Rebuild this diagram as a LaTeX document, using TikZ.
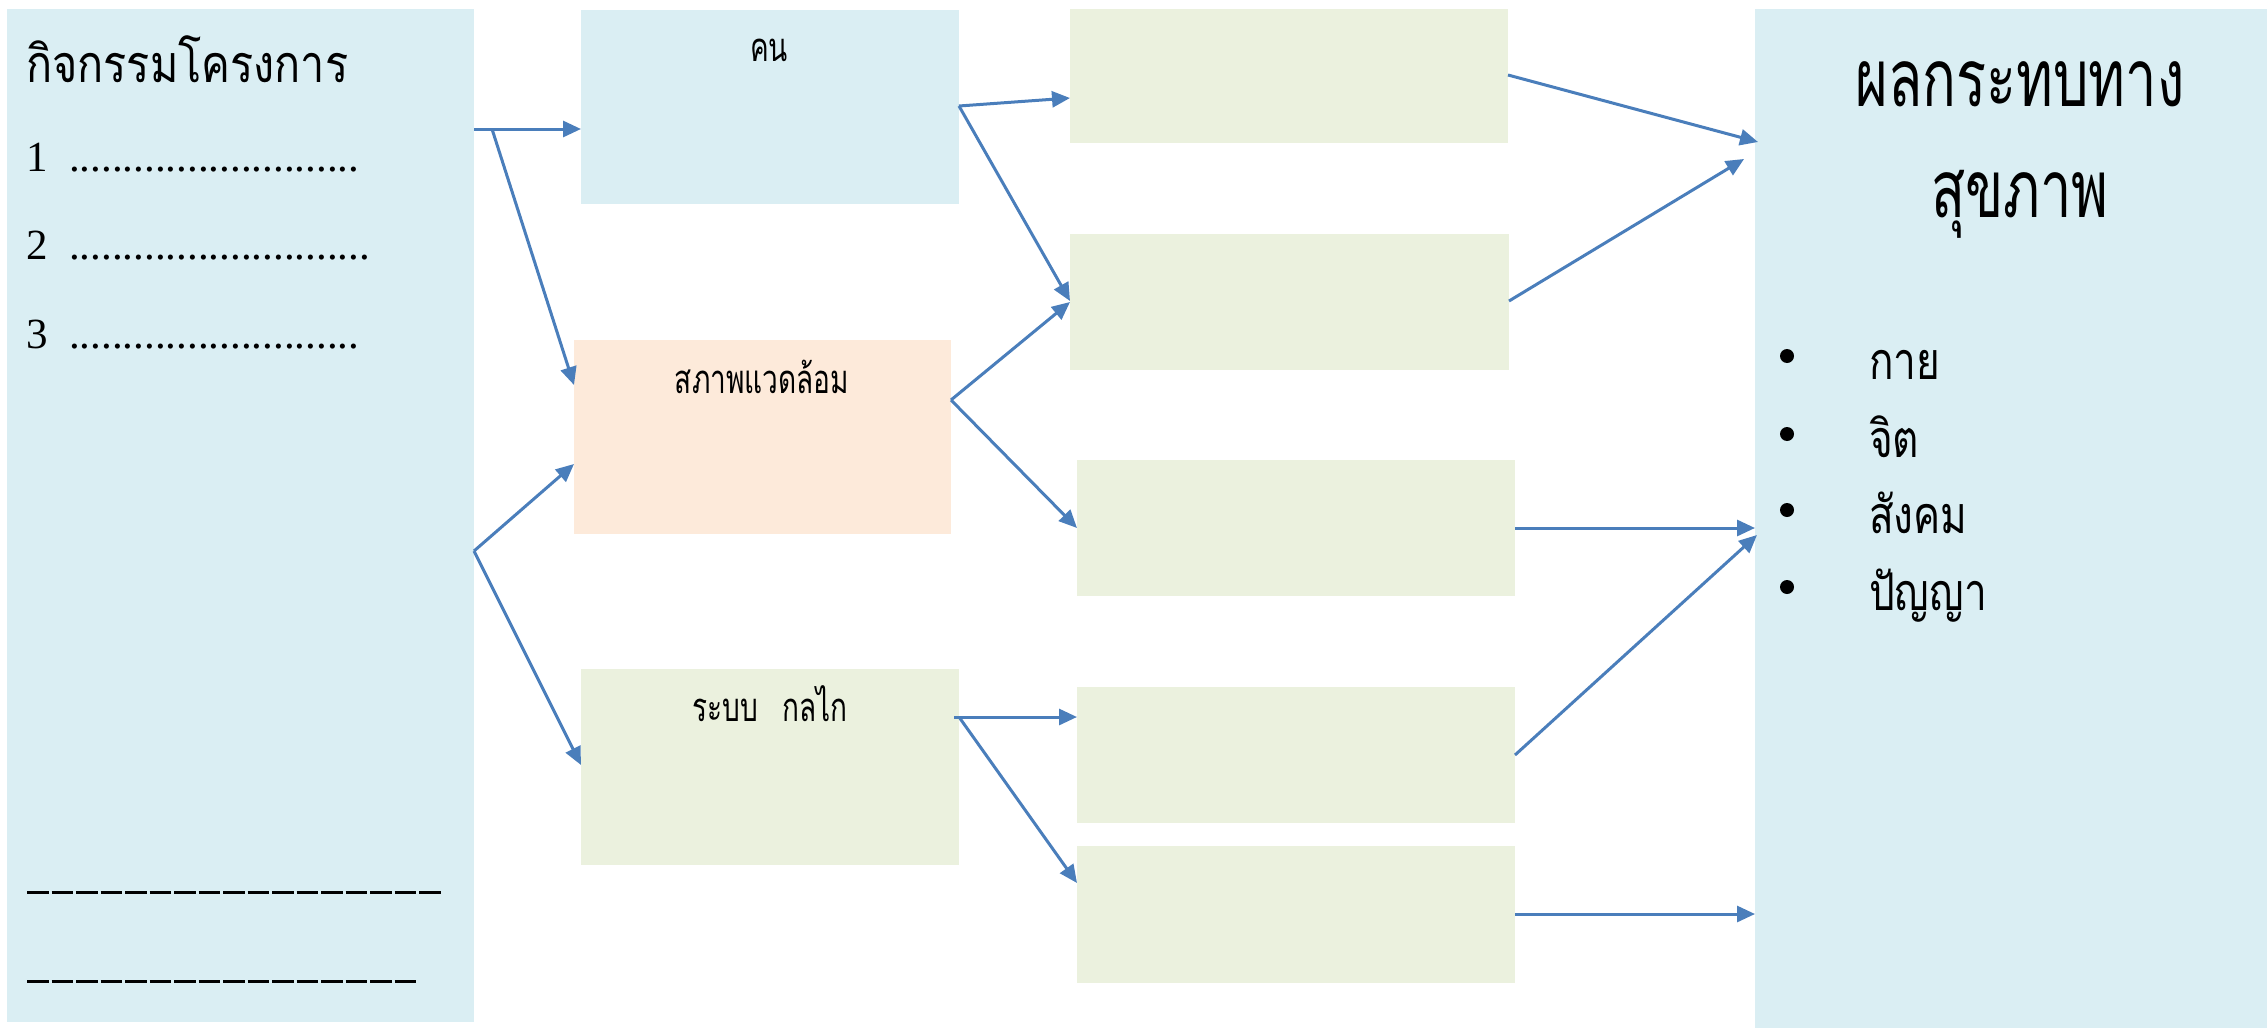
\documentclass[tikz,border=0pt]{standalone}
\usepackage{fontspec}
\setmainfont{Liberation Serif}
\newfontfamily\thaifont[Script=Thai,FakeStretch=0.78]{Loma}
\newfontfamily\thaititle[Script=Thai,FakeStretch=0.83]{Loma}
\newfontfamily\thaicond[Script=Thai,FakeStretch=0.70]{Loma}
\usetikzlibrary{arrows.meta,calc}
\definecolor{lblue}{HTML}{DAEEF3}
\definecolor{peach}{HTML}{FDEADA}
\definecolor{lgreen}{HTML}{EBF1DE}
\definecolor{arrblue}{HTML}{4A7EBB}
\tikzset{
  box/.style={draw=none, inner sep=0pt, outer sep=0pt, anchor=north west},
  arr/.style={draw=arrblue, line width=3pt, -{Triangle[length=18pt,width=16pt]}},
  thaiTitle/.style={anchor=base west, inner sep=0pt, font=\thaititle\fontsize{52}{60}\selectfont},
  thaiL/.style={anchor=base west, inner sep=0pt, font=\thaifont\fontsize{52}{60}\selectfont},
  thaiM/.style={anchor=base, inner sep=0pt, font=\thaicond\fontsize{40}{48}\selectfont},
  thaiXL/.style={anchor=base, inner sep=0pt, font=\thaicond\fontsize{80}{90}\selectfont},
  latL/.style={anchor=base west, inner sep=0pt, font=\fontsize{43}{50}\selectfont},
  blank/.style={line width=3pt, dash pattern=on 21.5pt off 3pt},
  bullet/.style={circle, fill=black, minimum size=14pt, inner sep=0pt},
}
\begin{document}
\begin{tikzpicture}[x=1pt,y=-1pt]
\useasboundingbox (0,0) rectangle (2267,1028);
% boxes
\node[box, fill=lblue, minimum width=467pt, minimum height=1013pt] (act) at (7,9) {};
\node[box, fill=lblue, minimum width=378pt, minimum height=194pt] (kon) at (581,10) {};
\node[box, fill=peach, minimum width=377pt, minimum height=194pt] (env) at (574,340) {};
\node[box, fill=lgreen, minimum width=378pt, minimum height=196pt] (sys) at (581,669) {};
\node[box, fill=lgreen, minimum width=438pt, minimum height=134pt] (g1) at (1070,9) {};
\node[box, fill=lgreen, minimum width=439pt, minimum height=136pt] (g2) at (1070,234) {};
\node[box, fill=lgreen, minimum width=438pt, minimum height=136pt] (g3) at (1077,460) {};
\node[box, fill=lgreen, minimum width=438pt, minimum height=136pt] (g4) at (1077,687) {};
\node[box, fill=lgreen, minimum width=438pt, minimum height=137pt] (g5) at (1077,846) {};
\node[box, fill=lblue, minimum width=512pt, minimum height=1019pt] (out) at (1755,9) {};
% left texts
\node[thaiTitle] (title) at (26,82) {กิจกรรมโครงการ};
\node[latL] (i1) at (26,171) {1\hspace{0.5em}...........................};
\node[latL] (i2) at (26,259) {2\hspace{0.5em}............................};
\node[latL] (i3) at (26,348) {3\hspace{0.5em}...........................};
\coordinate (d1a) at (27,892); \coordinate (d1b) at (440.5,892);
\coordinate (d2a) at (27,981); \coordinate (d2b) at (416,981);
\draw[blank] (d1a) -- (d1b);
\draw[blank] (d2a) -- (d2b);
% box labels
\node[thaiM] (konT) at (769,61) {คน};
\node[thaiM] (envT) at (762,393) {สภาพแวดล้อม};
\node[thaiM] (sysT) at (770,721) {ระบบ\hspace{0.6em}กลไก};
% right texts
\node[thaiXL] (outT1) at (2020,106) {ผลกระทบทาง};
\node[thaiXL] (outT2) at (2020,217) {สุขภาพ};
\node[bullet] (b1) at (1787,356) {};
\node[bullet] (b2) at (1787,434) {};
\node[bullet] (b3) at (1787,510) {};
\node[bullet] (b4) at (1787,587) {};
\node[thaiL] (o1) at (1869,379) {กาย};
\node[thaiL] (o2) at (1869,457) {จิต};
\node[thaiL] (o3) at (1869,533) {สังคม};
\node[thaiL] (o4) at (1869,610) {ปัญญา};
% connectors
\coordinate (j1) at (492,129);
\draw[arr] (act.east |- j1) -- (kon.west |- j1);
\draw[arr] (j1) -- ($(env.north west)+(0,45)$);
\coordinate (j2) at ($(act.north east)+(0,542)$);
\draw[arr] (j2) -- ($(env.north west)+(0,124)$);
\draw[arr] (j2) -- ($(sys.north west)+(0,96)$);
\coordinate (j3) at ($(kon.north east)+(0,96)$);
\draw[arr] (j3) -- ($(g1.north west)+(0,89)$);
\draw[arr] (j3) -- ($(g2.north west)+(0,67)$);
\coordinate (j4) at ($(env.north east)+(0,60)$);
\draw[arr] (j4) -- ($(g2.north west)+(0,68)$);
\draw[arr] (j4) -- ($(g3.north west)+(0,68)$);
\coordinate (j5) at ($(sys.north east)+(0,48)$);
\draw[arr] ($(j5)+(-5,0)$) -- (g4.west |- j5);
\draw[arr] (j5) -- ($(g5.north west)+(0,37)$);
\draw[arr] ($(g1.north east)+(0,66)$) -- ($(out.north west)+(3,133)$);
\draw[arr] ($(g2.north east)+(0,67)$) -- ($(out.north west)+(-11,150)$);
\draw[arr] (g3.east) -- (out.west |- g3.east);
\draw[arr] ($(g4.north east)+(0,68)$) -- ($(out.north west)+(2,526)$);
\coordinate (j6) at ($(g5.north east)+(0,68)$);
\draw[arr] (j6) -- (out.west |- j6);
\end{tikzpicture}
\end{document}
